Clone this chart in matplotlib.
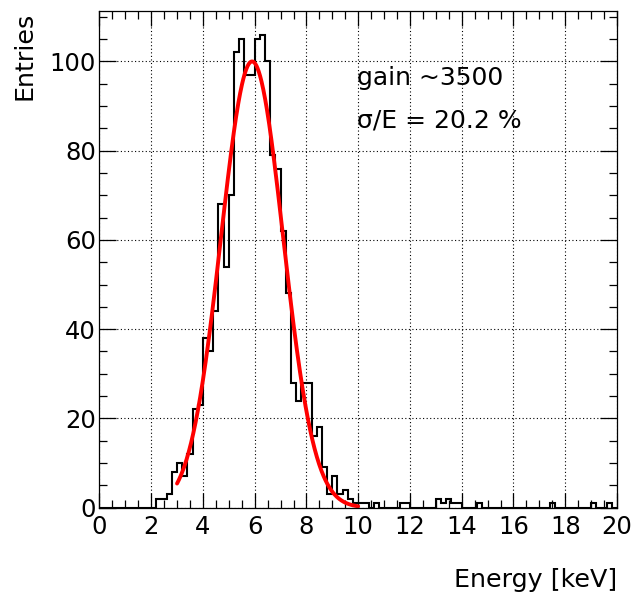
import numpy as np
import matplotlib
matplotlib.use("Agg")
import matplotlib.pyplot as plt
from matplotlib.ticker import MultipleLocator

plt.rcParams['font.family'] = ['DejaVu Sans']

# ---- data (0.2 keV bins, 0..20 keV) ----
bin_edges = np.round(np.arange(0, 20.0001, 0.2), 3)
counts = [0] * 100
nonzero = {
    2.2: 2, 2.4: 2, 2.6: 3, 2.8: 8, 3.0: 10, 3.2: 7, 3.4: 12, 3.6: 22, 3.8: 23,
    4.0: 38, 4.2: 35, 4.4: 44, 4.6: 68, 4.8: 54, 5.0: 70, 5.2: 102, 5.4: 105,
    5.6: 97, 5.8: 97, 6.0: 105, 6.2: 106, 6.4: 100, 6.6: 79, 6.8: 76, 7.0: 62,
    7.2: 48, 7.4: 28, 7.6: 24, 7.8: 28, 8.0: 28, 8.2: 16, 8.4: 18, 8.6: 9,
    8.8: 3, 9.0: 7, 9.2: 3, 9.4: 4, 9.6: 2, 9.8: 1, 10.0: 1, 10.2: 1, 10.6: 1,
    11.6: 1, 11.8: 1, 13.0: 2, 13.2: 1, 13.4: 2, 13.6: 1, 13.8: 1, 14.6: 1,
    17.4: 1, 19.0: 1, 19.6: 1,
}
for e, c in nonzero.items():
    counts[int(round(e / 0.2))] = c

# Gaussian fit parameters
fit_amp = 100.0
fit_mean = 5.9
fit_sigma = 1.2
fit_range = (3.0, 10.0)

xticks = [0, 2, 4, 6, 8, 10, 12, 14, 16, 18, 20]
yticks = [0, 20, 40, 60, 80, 100]

# ---- figure ----
W, H = 635, 594
fig = plt.figure(figsize=(W / 100, H / 100), dpi=100)
x0, x1, ytop, ybot = 99.4, 617, 11, 507.6
ax = fig.add_axes([x0 / W, (H - ybot) / H, (x1 - x0) / W, (ybot - ytop) / H])

ax.stairs(counts, bin_edges, color='black', lw=1.5, baseline=0)

xf = np.linspace(fit_range[0], fit_range[1], 400)
yf = fit_amp * np.exp(-0.5 * ((xf - fit_mean) / fit_sigma) ** 2)
ax.plot(xf, yf, color='#ff0000', lw=2.8, solid_capstyle='round')

ax.set_xlim(0, 20)
ax.set_ylim(0, 111.3)
ax.set_xticks(xticks)
ax.set_yticks(yticks)
ax.xaxis.set_minor_locator(MultipleLocator(0.5))
ax.yaxis.set_minor_locator(MultipleLocator(5))
ax.tick_params(which='both', direction='in', top=True, right=True,
               labelsize=17.5, width=0.9)
ax.tick_params(axis='x', which='major', length=11, pad=5)
ax.tick_params(axis='x', which='minor', length=5.5)
ax.tick_params(axis='y', which='major', length=12, pad=2.5)
ax.tick_params(axis='y', which='minor', length=6)
ax.grid(True, which='major', linestyle=(0, (1, 2.2)), color='black', lw=0.8)
for s in ax.spines.values():
    s.set_linewidth(0.9)

fig.text(617 / W, 1 - 587 / H, 'Energy [keV]', ha='right', va='baseline', fontsize=18.3)
fig.text(24 / W, 1 - 12 / H, 'Entries', ha='center', va='top', rotation=90, fontsize=18.3)

fig.text(357 / W, 1 - 85 / H, 'gain ~3500', ha='left', va='baseline', fontsize=18)
fig.text(357 / W, 1 - 128 / H, 'σ/E = 20.2 %', ha='left', va='baseline', fontsize=18)

fig.savefig('out.png', dpi=100)
